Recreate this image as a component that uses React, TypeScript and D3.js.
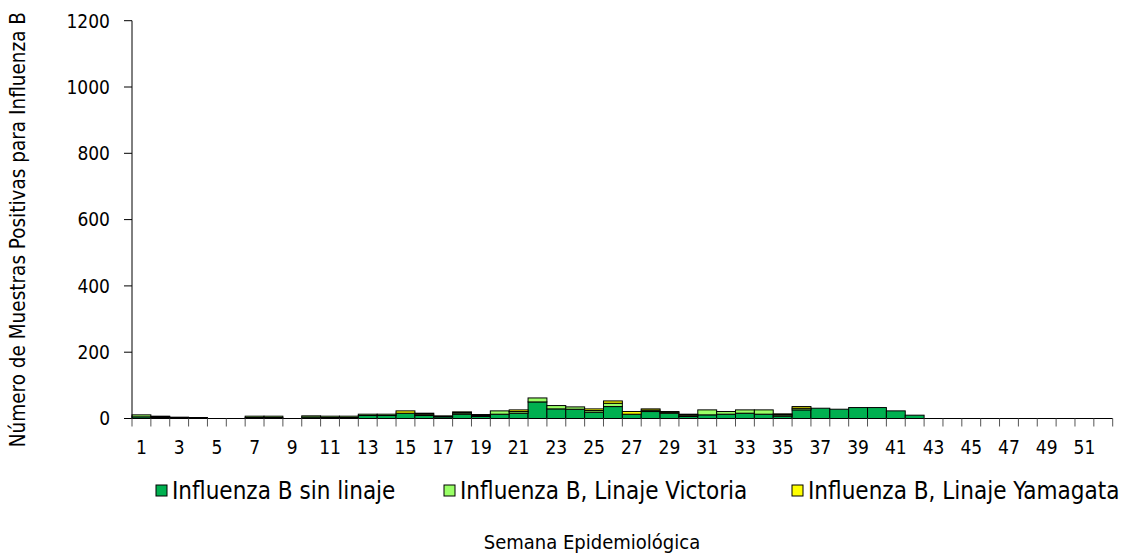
import React, { useEffect, useRef } from 'react';
import * as d3 from 'd3';

const weeks = d3.range(1, 53).map(String);

// Influenza B sin linaje
const sinLinaje = [5, 2, 2, 2, 0, 0, 3, 3, 0, 4, 3, 3, 9, 9, 16, 9, 5, 13, 6, 13, 16, 50, 29, 28, 19, 36,
  13, 21, 16, 6, 11, 13, 16, 13, 7, 26, 31, 28, 33, 33, 23, 10, 0, 0, 0, 0, 0, 0, 0, 0, 0, 0];
// Influenza B, Linaje Victoria
const victoria = [6, 3, 2, 1, 0, 0, 4, 4, 0, 4, 4, 4, 4, 4, 0, 4, 3, 4, 3, 10, 5, 12, 10, 7, 5, 10,
  0, 4, 3, 4, 15, 8, 10, 13, 4, 5, 0, 0, 0, 0, 0, 0, 0, 0, 0, 0, 0, 0, 0, 0, 0, 0];
// Influenza B, Linaje Yamagata
const yamagata = [0, 2, 0, 0, 0, 0, 0, 0, 0, 0, 0, 0, 0, 0, 7, 3, 0, 3, 3, 0, 5, 0, 0, 0, 5, 7,
  8, 4, 2, 3, 0, 0, 0, 0, 3, 5, 0, 0, 0, 0, 0, 0, 0, 0, 0, 0, 0, 0, 0, 0, 0, 0];

const seriesNames = ['Influenza B sin linaje', 'Influenza B, Linaje Victoria', 'Influenza B, Linaje Yamagata'];
const seriesColors = ['#00B050', '#99FF66', '#FFFF00'];
const yTicks = [0, 200, 400, 600, 800, 1000, 1200];

const FONT = "'DejaVu Sans Condensed', 'DejaVu Sans', sans-serif";

const App = () => {
  const ref = useRef<SVGSVGElement>(null);

  useEffect(() => {
    if (!ref.current) return;
    const svg = d3.select(ref.current);
    svg.selectAll('*').remove();

    const left = 132, right = 1112.7, top = 20.7, bottom = 418.5;

    const x = d3.scaleBand().domain(weeks).range([left, right]).padding(0);
    const y = d3.scaleLinear().domain([0, 1200]).range([bottom, top]);

    const rows = weeks.map((w, i) => ({ week: w, s0: sinLinaje[i], s1: victoria[i], s2: yamagata[i] }));
    const stacked = d3.stack<any>().keys(['s0', 's1', 's2'])(rows);

    const g = svg.append('g').style('font-family', FONT).style('font-stretch', 'condensed');

    // barras apiladas
    stacked.forEach((layer, k) => {
      g.append('g')
        .selectAll('rect')
        .data(layer.filter(d => d[1] - d[0] > 0))
        .join('rect')
        .attr('x', d => x(d.data.week)!)
        .attr('width', x.bandwidth())
        .attr('y', d => y(d[1]))
        .attr('height', d => y(d[0]) - y(d[1]))
        .attr('fill', seriesColors[k])
        .attr('stroke', '#000')
        .attr('stroke-width', 1);
    });

    // eje Y
    g.append('line')
      .attr('x1', left).attr('x2', left)
      .attr('y1', top).attr('y2', bottom)
      .attr('stroke', '#000');
    yTicks.forEach(t => {
      g.append('line')
        .attr('x1', left - 8).attr('x2', left)
        .attr('y1', y(t)).attr('y2', y(t))
        .attr('stroke', '#000');
      g.append('text')
        .attr('x', 110).attr('y', y(t))
        .attr('dy', '0.36em')
        .attr('text-anchor', 'end')
        .style('font-size', '19px')
        .text(t);
    });

    // eje X
    g.append('line')
      .attr('x1', left).attr('x2', right)
      .attr('y1', bottom).attr('y2', bottom)
      .attr('stroke', '#000');
    weeks.forEach((w, i) => {
      const x0 = x(w)!;
      g.append('line')
        .attr('x1', x0 + x.bandwidth()).attr('x2', x0 + x.bandwidth())
        .attr('y1', bottom).attr('y2', bottom + 8)
        .attr('stroke', '#555');
      if (i === 0) {
        g.append('line')
          .attr('x1', x0).attr('x2', x0)
          .attr('y1', bottom).attr('y2', bottom + 8)
          .attr('stroke', '#555');
      }
      if (i % 2 === 0) {
        g.append('text')
          .attr('x', x0 + x.bandwidth() / 2).attr('y', 454)
          .attr('text-anchor', 'middle')
          .style('font-size', '19px')
          .text(w);
      }
    });

    // leyenda
    const legendX = [156, 444, 792];
    seriesNames.forEach((name, k) => {
      g.append('rect')
        .attr('x', legendX[k]).attr('y', 485)
        .attr('width', 11).attr('height', 11)
        .attr('fill', seriesColors[k])
        .attr('stroke', '#000');
      g.append('text')
        .attr('x', legendX[k] + 16).attr('y', 499)
        .style('font-size', '24px')
        .text(name);
    });

    // títulos
    g.append('text')
      .attr('x', 592).attr('y', 549)
      .attr('text-anchor', 'middle')
      .style('font-size', '20px')
      .text('Semana Epidemiológica');

    g.append('text')
      .attr('transform', 'translate(25,12) rotate(-90)')
      .attr('text-anchor', 'end')
      .style('font-size', '20.5px')
      .text('Número de Muestras Positivas para Influenza B');
  }, []);

  return (
    <svg ref={ref} width={1126} height={556} style={{ display: 'block', position: 'absolute', left: 0, top: 0 }} />
  );
};

export default App;
